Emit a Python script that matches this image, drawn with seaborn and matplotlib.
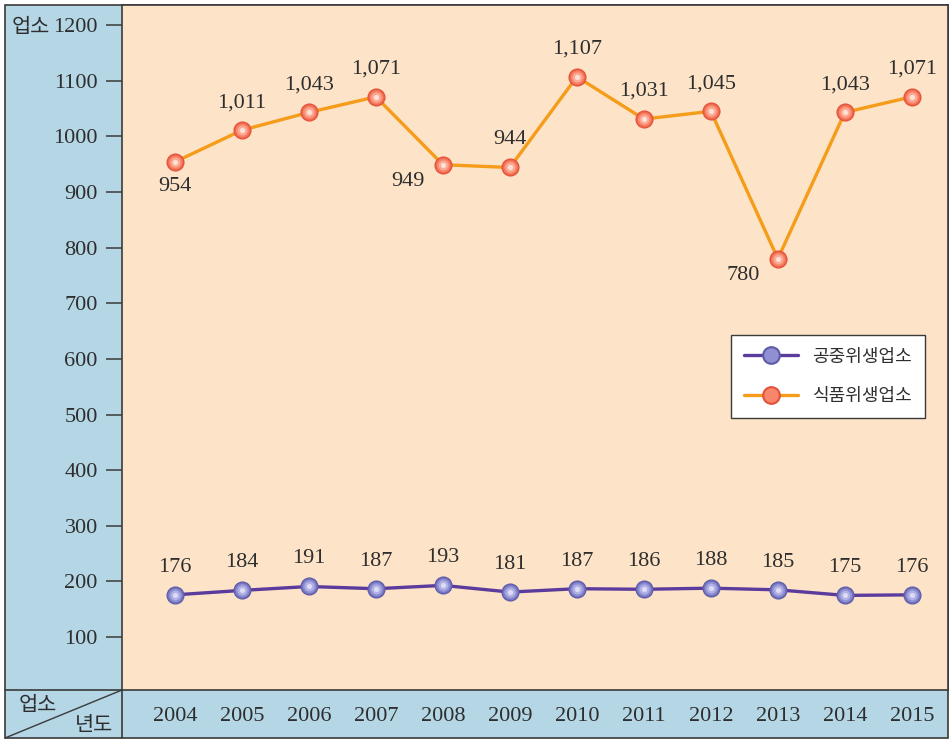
import matplotlib
matplotlib.use("Agg")
import matplotlib.pyplot as plt
from matplotlib.patches import Rectangle
from matplotlib.lines import Line2D
import seaborn as sns
import pandas as pd

years = ["2004", "2005", "2006", "2007", "2008", "2009", "2010", "2011", "2012", "2013", "2014", "2015"]
public_health = [176, 184, 191, 187, 193, 181, 187, 186, 188, 185, 175, 176]
food_health = [954, 1011, 1043, 1071, 949, 944, 1107, 1031, 1045, 780, 1043, 1071]
series_names = ["공중위생업소", "식품위생업소"]
y_ticks = [100, 200, 300, 400, 500, 600, 700, 800, 900, 1000, 1100, 1200]

sns.set_style("white")
plt.rcParams["font.family"] = ["Liberation Serif", "Noto Sans CJK KR"]

W, H = 950, 740
fig = plt.figure(figsize=(9.5, 7.4), dpi=100)
fx = lambda px: px / W
fy = lambda py: 1 - py / H

blue = "#b4d6e5"
peach = "#fde4c8"
frame = "#3a3a3a"
txt = "#2e2e2e"
purple_line = "#5b3c9c"
orange_line = "#f59c1a"

# blue side and bottom bands
fig.patches.append(Rectangle((fx(5), fy(738)), fx(943), 733 / H, transform=fig.transFigure,
                             facecolor=blue, edgecolor=frame, lw=1.2, zorder=-10))

ax = fig.add_axes([fx(122), fy(690), fx(948 - 122), (690 - 5) / H])
ax.set_zorder(1)
ax.set_facecolor(peach)
for s in ax.spines.values():
    s.set_color(frame)
    s.set_linewidth(1.2)

idx = list(range(len(years)))
df = pd.DataFrame({
    "x": idx * 2,
    "v": public_health + food_health,
    "s": [series_names[0]] * len(years) + [series_names[1]] * len(years),
})
palette = {series_names[0]: purple_line, series_names[1]: orange_line}
sns.lineplot(data=df, x="x", y="v", hue="s", palette=palette, lw=2.4, ax=ax, legend=False)

# sphere-like markers: stacked discs from dark rim to bright centre
marker_face = {series_names[0]: ["#5d5aa8", "#7474c0", "#8f8fd2", "#b0b0e4", "#dcdcf6"],
               series_names[1]: ["#e4503a", "#ef6a4e", "#f7866a", "#fbab95", "#fde0d6"]}
sizes = [170, 130, 90, 50, 14]
for name, vals in zip(series_names, [public_health, food_health]):
    for k, (c, sz) in enumerate(zip(marker_face[name], sizes)):
        ax.scatter(idx, vals, s=sz, color=c, zorder=3 + k, linewidths=0)

def fmt(v):
    return f"{v:,}"

for i, v in enumerate(public_health):
    ax.annotate(fmt(v), (i, v), xytext=(0, 13), textcoords="offset points",
                ha="center", va="bottom", fontsize=16, color=txt)

food_pos = ["below", "above", "above", "above", "left", "above", "above", "above", "above", "left", "above", "above"]
for i, (v, p) in enumerate(zip(food_health, food_pos)):
    if p == "above":
        ax.annotate(fmt(v), (i, v), xytext=(0, 13), textcoords="offset points",
                    ha="center", va="bottom", fontsize=16, color=txt)
    elif p == "below":
        ax.annotate(fmt(v), (i, v), xytext=(0, -11), textcoords="offset points",
                    ha="center", va="top", fontsize=16, color=txt)
    else:
        ax.annotate(fmt(v), (i, v), xytext=(-13, -5), textcoords="offset points",
                    ha="right", va="top", fontsize=16, color=txt)

ax.set_xlim(-0.79, 11.54)
ax.set_ylim(5, 1236)
ax.set_yticks(y_ticks)
ax.set_yticklabels([str(t) for t in y_ticks], fontsize=16, color=txt)
ax.set_xticks(idx)
ax.set_xticklabels(years, fontsize=16, color=txt)
ax.tick_params(axis="y", direction="out", length=11.5, width=1.1, color=frame, pad=6, left=True)
ax.tick_params(axis="x", length=0, pad=12)
ax.set_xlabel("")
ax.set_ylabel("")

handles = [
    Line2D([0], [0], color=purple_line, lw=2.4, marker="o", markersize=12,
           markerfacecolor="#8f8fd2", markeredgecolor="#5d5aa8", markeredgewidth=1.5),
    Line2D([0], [0], color=orange_line, lw=2.4, marker="o", markersize=12,
           markerfacecolor="#f7866a", markeredgecolor="#e4503a", markeredgewidth=1.5),
]
leg = ax.legend(handles, series_names, loc="upper right", bbox_to_anchor=(0.972, 0.518),
                borderaxespad=0, frameon=True, fancybox=False, edgecolor=frame, facecolor="white",
                labelspacing=1.2, handlelength=3.0, handletextpad=0.8, borderpad=0.7,
                prop={"family": ["Noto Sans CJK KR"], "size": 13})
leg.get_frame().set_linewidth(1.0)
leg.get_frame().set_alpha(1)
for t in leg.get_texts():
    t.set_color(txt)

# labels and corner cell
kfont = ["Noto Sans CJK KR"]
fig.text(fx(12), fy(27), "업소", fontsize=15, family=kfont, va="center", ha="left", color=txt)
fig.text(fx(19), fy(705), "업소", fontsize=15, family=kfont, va="center", ha="left", color=txt)
fig.text(fx(75), fy(725), "년도", fontsize=15, family=kfont, va="center", ha="left", color=txt)
fig.lines.append(Line2D([fx(5), fx(122)], [fy(738), fy(690)], transform=fig.transFigure, color=frame, lw=1.0))
fig.lines.append(Line2D([fx(5), fx(122)], [fy(690), fy(690)], transform=fig.transFigure, color=frame, lw=1.2))
fig.lines.append(Line2D([fx(122), fx(122)], [fy(690), fy(738)], transform=fig.transFigure, color=frame, lw=1.2))

fig.savefig("out.png", dpi=100, facecolor="white")
plt.close()
